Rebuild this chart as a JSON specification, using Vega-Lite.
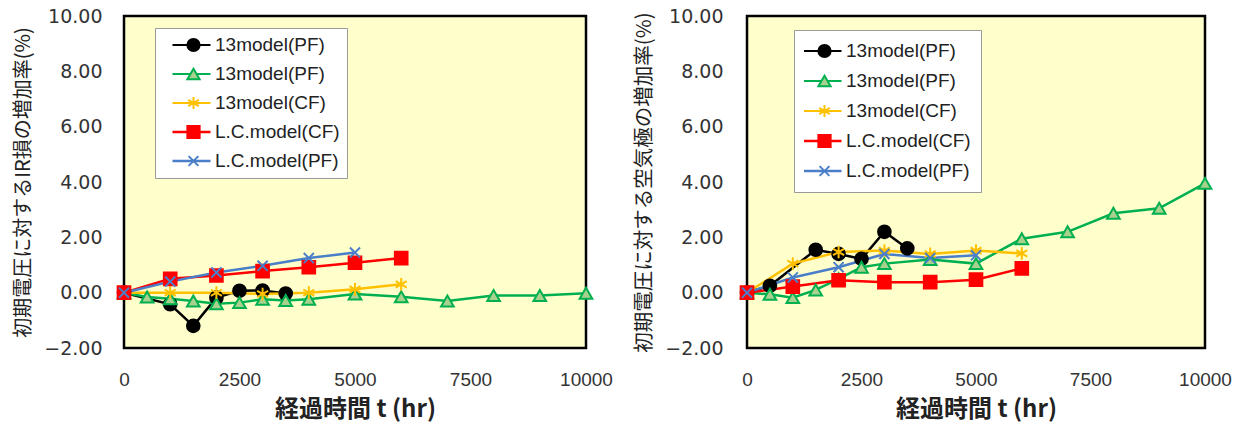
{
  "$schema": "https://vega.github.io/schema/vega-lite/v6.json",
  "padding": {"left": 12, "top": 5, "right": 0, "bottom": 0},
  "background": "white",
  "spacing": 19,
  "config": {
    "view": {"fill": "#FFFFCC", "stroke": "#000000", "strokeWidth": 2.5},
    "axis": {"grid": false, "domain": false, "ticks": false, "labelColor": "#333333", "titleColor": "#222222", "labelFlush": false},
    "line": {"strokeWidth": 2.5}
  },
  "resolve": {
    "scale": {"color": "independent", "fill": "independent", "stroke": "independent", "shape": "independent", "strokeWidth": "independent"},
    "legend": {"color": "independent", "fill": "independent", "stroke": "independent", "shape": "independent"}
  },
  "datasets": {
    "L": [
      {"s": "1_13model(PF)", "t": 0, "v": 0},
      {"s": "1_13model(PF)", "t": 1000, "v": -0.42},
      {"s": "1_13model(PF)", "t": 1500, "v": -1.2},
      {"s": "1_13model(PF)", "t": 2000, "v": -0.18},
      {"s": "1_13model(PF)", "t": 2500, "v": 0.07},
      {"s": "1_13model(PF)", "t": 3000, "v": 0.08},
      {"s": "1_13model(PF)", "t": 3500, "v": -0.03},
      {"s": "2_13model(PF)", "t": 0, "v": 0},
      {"s": "2_13model(PF)", "t": 500, "v": -0.16},
      {"s": "2_13model(PF)", "t": 1000, "v": -0.22},
      {"s": "2_13model(PF)", "t": 1500, "v": -0.3},
      {"s": "2_13model(PF)", "t": 2000, "v": -0.4},
      {"s": "2_13model(PF)", "t": 2500, "v": -0.36},
      {"s": "2_13model(PF)", "t": 3000, "v": -0.24},
      {"s": "2_13model(PF)", "t": 3500, "v": -0.28},
      {"s": "2_13model(PF)", "t": 4000, "v": -0.24},
      {"s": "2_13model(PF)", "t": 5000, "v": -0.05},
      {"s": "2_13model(PF)", "t": 6000, "v": -0.15},
      {"s": "2_13model(PF)", "t": 7000, "v": -0.3},
      {"s": "2_13model(PF)", "t": 8000, "v": -0.1},
      {"s": "2_13model(PF)", "t": 9000, "v": -0.1},
      {"s": "2_13model(PF)", "t": 10000, "v": -0.02},
      {"s": "3_13model(CF)", "t": 0, "v": 0},
      {"s": "3_13model(CF)", "t": 1000, "v": 0},
      {"s": "3_13model(CF)", "t": 2000, "v": 0},
      {"s": "3_13model(CF)", "t": 3000, "v": -0.05},
      {"s": "3_13model(CF)", "t": 4000, "v": 0},
      {"s": "3_13model(CF)", "t": 5000, "v": 0.12},
      {"s": "3_13model(CF)", "t": 6000, "v": 0.3},
      {"s": "4_L.C.model(CF)", "t": 0, "v": 0},
      {"s": "4_L.C.model(CF)", "t": 1000, "v": 0.5},
      {"s": "4_L.C.model(CF)", "t": 2000, "v": 0.62},
      {"s": "4_L.C.model(CF)", "t": 3000, "v": 0.78},
      {"s": "4_L.C.model(CF)", "t": 4000, "v": 0.92},
      {"s": "4_L.C.model(CF)", "t": 5000, "v": 1.08},
      {"s": "4_L.C.model(CF)", "t": 6000, "v": 1.25},
      {"s": "5_L.C.model(PF)", "t": 0, "v": 0},
      {"s": "5_L.C.model(PF)", "t": 1000, "v": 0.4},
      {"s": "5_L.C.model(PF)", "t": 2000, "v": 0.73},
      {"s": "5_L.C.model(PF)", "t": 3000, "v": 0.97},
      {"s": "5_L.C.model(PF)", "t": 4000, "v": 1.25},
      {"s": "5_L.C.model(PF)", "t": 5000, "v": 1.45}
    ],
    "R": [
      {"s": "1_13model(PF)", "t": 0, "v": 0},
      {"s": "1_13model(PF)", "t": 500, "v": 0.25},
      {"s": "1_13model(PF)", "t": 1500, "v": 1.55},
      {"s": "1_13model(PF)", "t": 2000, "v": 1.4},
      {"s": "1_13model(PF)", "t": 2500, "v": 1.22},
      {"s": "1_13model(PF)", "t": 3000, "v": 2.2},
      {"s": "1_13model(PF)", "t": 3500, "v": 1.6},
      {"s": "2_13model(PF)", "t": 0, "v": 0},
      {"s": "2_13model(PF)", "t": 500, "v": -0.06},
      {"s": "2_13model(PF)", "t": 1000, "v": -0.18},
      {"s": "2_13model(PF)", "t": 1500, "v": 0.1},
      {"s": "2_13model(PF)", "t": 2000, "v": 0.5},
      {"s": "2_13model(PF)", "t": 2500, "v": 0.92},
      {"s": "2_13model(PF)", "t": 3000, "v": 1.05},
      {"s": "2_13model(PF)", "t": 4000, "v": 1.2},
      {"s": "2_13model(PF)", "t": 5000, "v": 1.05},
      {"s": "2_13model(PF)", "t": 6000, "v": 1.95},
      {"s": "2_13model(PF)", "t": 7000, "v": 2.2},
      {"s": "2_13model(PF)", "t": 8000, "v": 2.87},
      {"s": "2_13model(PF)", "t": 9000, "v": 3.05},
      {"s": "2_13model(PF)", "t": 10000, "v": 3.95},
      {"s": "3_13model(CF)", "t": 0, "v": 0},
      {"s": "3_13model(CF)", "t": 1000, "v": 1.05},
      {"s": "3_13model(CF)", "t": 2000, "v": 1.47},
      {"s": "3_13model(CF)", "t": 3000, "v": 1.52},
      {"s": "3_13model(CF)", "t": 4000, "v": 1.4},
      {"s": "3_13model(CF)", "t": 5000, "v": 1.52},
      {"s": "3_13model(CF)", "t": 6000, "v": 1.42},
      {"s": "4_L.C.model(CF)", "t": 0, "v": 0},
      {"s": "4_L.C.model(CF)", "t": 1000, "v": 0.22},
      {"s": "4_L.C.model(CF)", "t": 2000, "v": 0.45},
      {"s": "4_L.C.model(CF)", "t": 3000, "v": 0.38},
      {"s": "4_L.C.model(CF)", "t": 4000, "v": 0.38},
      {"s": "4_L.C.model(CF)", "t": 5000, "v": 0.47},
      {"s": "4_L.C.model(CF)", "t": 6000, "v": 0.88},
      {"s": "5_L.C.model(PF)", "t": 0, "v": 0},
      {"s": "5_L.C.model(PF)", "t": 1000, "v": 0.55},
      {"s": "5_L.C.model(PF)", "t": 2000, "v": 0.92},
      {"s": "5_L.C.model(PF)", "t": 3000, "v": 1.4},
      {"s": "5_L.C.model(PF)", "t": 4000, "v": 1.25},
      {"s": "5_L.C.model(PF)", "t": 5000, "v": 1.35}
    ]
  },
  "hconcat": [
    {
      "width": 462,
      "height": 332,
      "data": {"name": "L"},
      "encoding": {
        "x": {"field": "t", "type": "quantitative", "scale": {"domain": [0, 10000], "nice": false},
          "axis": {"values": [0, 2500, 5000, 7500, 10000], "format": "d", "labelPadding": 22, "labelFont": "Liberation Sans", "labelFontSize": 19,
            "title": "経過時間 t (hr)", "titleFont": "Noto Sans CJK JP", "titleFontSize": 24, "titleFontWeight": "bold", "titlePadding": 8}},
        "y": {"field": "v", "type": "quantitative", "scale": {"domain": [-2, 10], "nice": false},
          "axis": {"values": [-2, 0, 2, 4, 6, 8, 10], "format": ".2f", "labelPadding": 22, "labelFont": "DejaVu Sans", "labelFontSize": 19,
            "title": "初期電圧に対するIR損の増加率(%)", "titleFont": "Noto Sans CJK JP", "titleFontSize": 20, "titleFontWeight": "normal", "titlePadding": 10}}
      },
      "layer": [
        {
          "mark": {"type": "line"},
          "encoding": {
            "color": {"field": "s", "type": "nominal",
              "scale": {"domain": ["1_13model(PF)", "2_13model(PF)", "3_13model(CF)", "4_L.C.model(CF)", "5_L.C.model(PF)"], "range": ["#000000", "#00B050", "#FFC000", "#FF0000", "#4A7EC8"]},
              "legend": {"title": null, "orient": "none", "legendX": 31, "legendY": 12, "padding": 7, "symbolOffset": 9, "symbolType": "stroke", "symbolSize": 1444, "symbolStrokeWidth": 2.5,
                "labelExpr": "slice(datum.label, 2)", "labelFont": "Liberation Sans", "labelFontSize": 19, "labelColor": "#222222", "labelOffset": 3,
                "clipHeight": 20, "rowPadding": 9, "fillColor": "white", "strokeColor": "#9a9a9a", "zindex": 0}},
            "strokeWidth": {"field": "s", "type": "nominal", "legend": null,
              "scale": {"domain": ["1_13model(PF)", "2_13model(PF)", "3_13model(CF)", "4_L.C.model(CF)", "5_L.C.model(PF)"], "range": [1.8, 2.6, 2.6, 2.6, 2.4]}}
          }
        },
        {
          "mark": {"type": "point", "filled": true, "size": 160, "strokeWidth": 2, "opacity": 1},
          "encoding": {
            "fill": {"field": "s", "type": "nominal", "scale": {"range": ["#000000", "#A9D18E", "#FFC000", "#FF0000", "#4A7EC8"]},
              "legend": {"title": null, "orient": "none", "legendX": 53, "legendY": 12, "padding": 7, "symbolSize": 150, "symbolStrokeWidth": 2,
                "labelExpr": "''", "labelFontSize": 19, "clipHeight": 20, "rowPadding": 9, "zindex": 1}},
            "stroke": {"field": "s", "type": "nominal", "scale": {"range": ["#000000", "#00B050", "#FFC000", "#FF0000", "#4A7EC8"]},
              "legend": {"title": null, "orient": "none", "legendX": 53, "legendY": 12, "padding": 7, "symbolSize": 150, "symbolStrokeWidth": 2,
                "labelExpr": "''", "labelFontSize": 19, "clipHeight": 20, "rowPadding": 9, "zindex": 1}},
            "shape": {"field": "s", "type": "nominal", "scale": {"range": ["circle", "triangle-up", "M0,-1L0,1M-0.87,-0.5L0.87,0.5M-0.87,0.5L0.87,-0.5", "square", "M-0.8,-0.8L0.8,0.8M-0.8,0.8L0.8,-0.8"]},
              "legend": {"title": null, "orient": "none", "legendX": 53, "legendY": 12, "padding": 7, "symbolSize": 150, "symbolStrokeWidth": 2,
                "labelExpr": "''", "labelFontSize": 19, "clipHeight": 20, "rowPadding": 9, "zindex": 1}}
          }
        }
      ]
    },
    {
      "width": 458,
      "height": 332,
      "data": {"name": "R"},
      "encoding": {
        "x": {"field": "t", "type": "quantitative", "scale": {"domain": [0, 10000], "nice": false},
          "axis": {"values": [0, 2500, 5000, 7500, 10000], "format": "d", "labelPadding": 22, "labelFont": "Liberation Sans", "labelFontSize": 19,
            "title": "経過時間 t (hr)", "titleFont": "Noto Sans CJK JP", "titleFontSize": 24, "titleFontWeight": "bold", "titlePadding": 8}},
        "y": {"field": "v", "type": "quantitative", "scale": {"domain": [-2, 10], "nice": false},
          "axis": {"values": [-2, 0, 2, 4, 6, 8, 10], "format": ".2f", "labelPadding": 24, "labelFont": "DejaVu Sans", "labelFontSize": 19,
            "title": "初期電圧に対する空気極の増加率(%)", "titleFont": "Noto Sans CJK JP", "titleFontSize": 20.5, "titleFontWeight": "normal", "titlePadding": 10}}
      },
      "layer": [
        {
          "mark": {"type": "line"},
          "encoding": {
            "color": {"field": "s", "type": "nominal",
              "scale": {"domain": ["1_13model(PF)", "2_13model(PF)", "3_13model(CF)", "4_L.C.model(CF)", "5_L.C.model(PF)"], "range": ["#000000", "#00B050", "#FFC000", "#FF0000", "#4A7EC8"]},
              "legend": {"title": null, "orient": "none", "legendX": 47, "legendY": 14, "padding": 10, "symbolOffset": -2, "symbolType": "stroke", "symbolSize": 1444, "symbolStrokeWidth": 2.5,
                "labelExpr": "slice(datum.label, 2)", "labelFont": "Liberation Sans", "labelFontSize": 19, "labelColor": "#222222", "labelOffset": 3,
                "clipHeight": 22, "rowPadding": 8, "fillColor": "white", "strokeColor": "#9a9a9a", "zindex": 0}},
            "strokeWidth": {"field": "s", "type": "nominal", "legend": null,
              "scale": {"domain": ["1_13model(PF)", "2_13model(PF)", "3_13model(CF)", "4_L.C.model(CF)", "5_L.C.model(PF)"], "range": [1.8, 2.6, 2.6, 2.6, 2.4]}}
          }
        },
        {
          "mark": {"type": "point", "filled": true, "size": 160, "strokeWidth": 2, "opacity": 1},
          "encoding": {
            "fill": {"field": "s", "type": "nominal", "scale": {"range": ["#000000", "#A9D18E", "#FFC000", "#FF0000", "#4A7EC8"]},
              "legend": {"title": null, "orient": "none", "legendX": 58, "legendY": 14, "padding": 10, "symbolSize": 150, "symbolStrokeWidth": 2,
                "labelExpr": "''", "labelFontSize": 19, "clipHeight": 22, "rowPadding": 8, "zindex": 1}},
            "stroke": {"field": "s", "type": "nominal", "scale": {"range": ["#000000", "#00B050", "#FFC000", "#FF0000", "#4A7EC8"]},
              "legend": {"title": null, "orient": "none", "legendX": 58, "legendY": 14, "padding": 10, "symbolSize": 150, "symbolStrokeWidth": 2,
                "labelExpr": "''", "labelFontSize": 19, "clipHeight": 22, "rowPadding": 8, "zindex": 1}},
            "shape": {"field": "s", "type": "nominal", "scale": {"range": ["circle", "triangle-up", "M0,-1L0,1M-0.87,-0.5L0.87,0.5M-0.87,0.5L0.87,-0.5", "square", "M-0.8,-0.8L0.8,0.8M-0.8,0.8L0.8,-0.8"]},
              "legend": {"title": null, "orient": "none", "legendX": 58, "legendY": 14, "padding": 10, "symbolSize": 150, "symbolStrokeWidth": 2,
                "labelExpr": "''", "labelFontSize": 19, "clipHeight": 22, "rowPadding": 8, "zindex": 1}}
          }
        }
      ]
    }
  ]
}
